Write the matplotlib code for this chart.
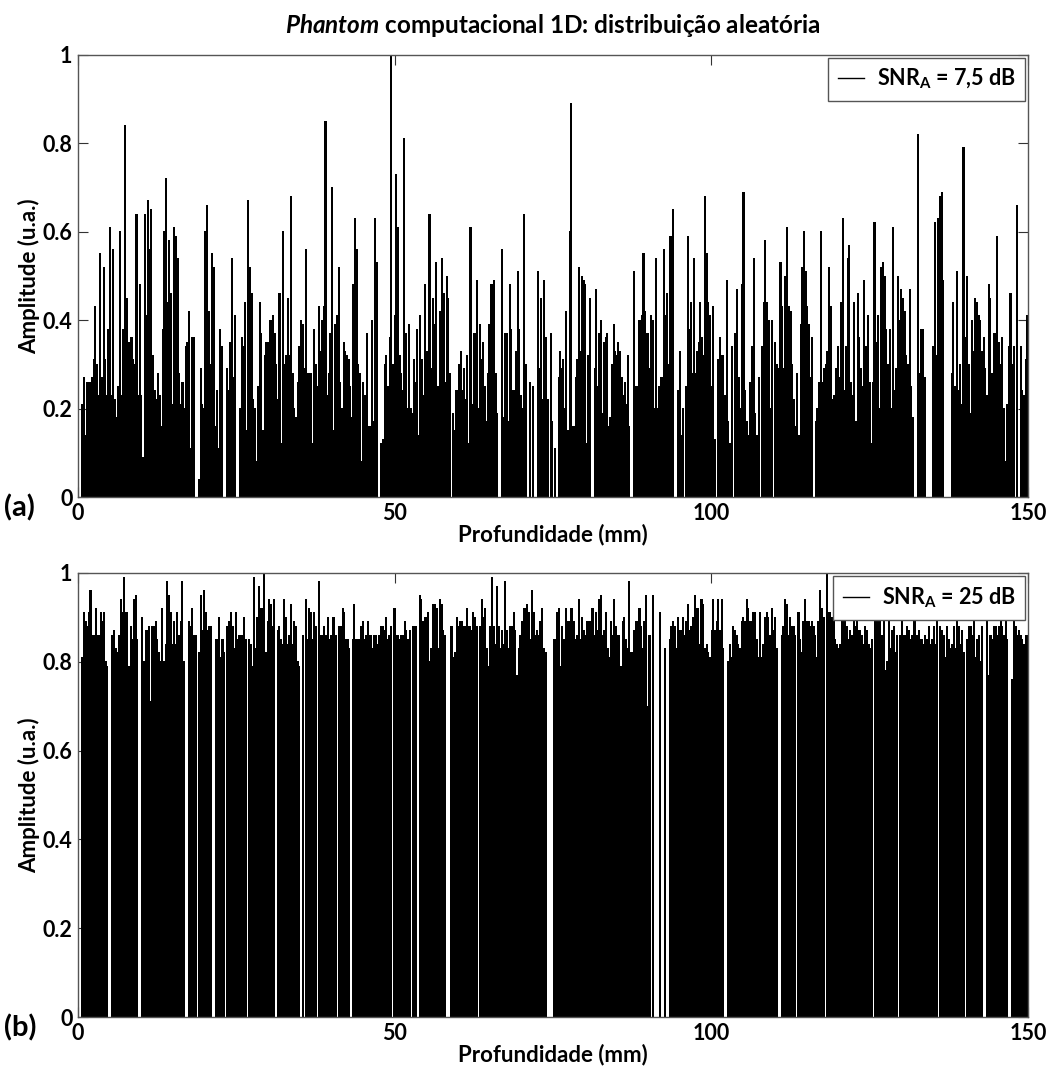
import matplotlib
matplotlib.use("Agg")
import matplotlib.pyplot as plt
from matplotlib.lines import Line2D
import numpy as np

plt.rcParams['font.family'] = ['Lato', 'DejaVu Sans']
plt.rcParams['font.weight'] = 'bold'
plt.rcParams['axes.labelweight'] = 'bold'
plt.rcParams['mathtext.fontset'] = 'custom'
plt.rcParams['mathtext.rm'] = 'Lato:bold'
plt.rcParams['mathtext.bf'] = 'Lato:bold'
plt.rcParams['mathtext.it'] = 'Lato:italic:bold'

# (a) SNR_A = 7,5 dB -- amplitudes per 50 mm stretch, 0 = no scatterer
amp_a_1 = [0.21, 0.27, 0.14, 0.26, 0.26, 0.26, 0.27, 0.31, 0.43, 0.30, 0.23, 0.55, 0.27, 0.52,
           0.31, 0.23, 0.38, 0.61, 0.23, 0.56, 0.22, 0.18, 0.25, 0.60, 0.23, 0.38, 0.84, 0.45,
           0.35, 0.35, 0.36, 0.31, 0.30, 0.64, 0.23, 0.48, 0.23, 0.09, 0.64, 0.41, 0.67, 0.56,
           0.65, 0.32, 0.24, 0.22, 0.28, 0.23, 0.16, 0.38, 0.60, 0.72, 0.44, 0.58, 0.46, 0.21,
           0.61, 0.59, 0.54, 0.28, 0.21, 0.26, 0.20, 0.34, 0.35, 0.42, 0.11, 0.36, 0.36, 0,
           0, 0.04, 0.29, 0.21, 0.20, 0.60, 0.66, 0.42, 0.30, 0.55, 0.52, 0.16, 0.24, 0.11,
           0.38, 0.34, 0, 0, 0.29, 0.24, 0.35, 0.54, 0.27, 0.41, 0, 0, 0.20, 0.36, 0.34, 0.44,
           0.15, 0.67, 0.52, 0.46, 0.22, 0.20, 0.08, 0.25, 0.44, 0.37, 0.15, 0.32, 0.35, 0.35,
           0.40, 0.40, 0.41, 0.37, 0.30, 0.22, 0.46, 0.12, 0.60, 0.30, 0.32, 0.45, 0.32, 0.68,
           0.28, 0.20, 0.18, 0.26, 0.34, 0.40, 0.39, 0.29, 0.56, 0.28, 0.28, 0.28, 0.12, 0.38,
           0.30, 0.25, 0.43, 0.33, 0.40, 0.43, 0.85, 0.23, 0.28, 0.37, 0.70, 0.15, 0.39, 0.41,
           0.52, 0.26, 0.20, 0.35, 0.33, 0.32, 0.31, 0.25, 0.18, 0.48, 0.63, 0.56, 0.30, 0.28,
           0.08, 0.26, 0.23, 0.37, 0.16, 0.16, 0.40, 0.17, 0.63, 0.53, 0, 0, 0.12, 0.13, 0.30,
           0.32, 0.25, 0.36, 1.00, 0.30, 0.41, 0.73, 0.61, 0.32]
amp_a_2 = [0.28, 0.24, 0.81, 0.37, 0.20, 0.39, 0.20, 0.19, 0.31, 0.26, 0.38, 0.14, 0.41, 0.31,
           0.23, 0.48, 0.33, 0.33, 0.64, 0.29, 0.45, 0.39, 0.53, 0.25, 0.25, 0.42, 0.54, 0.46,
           0.26, 0.50, 0.45, 0.28, 0, 0.19, 0.15, 0.24, 0.24, 0.30, 0.33, 0.24, 0.29, 0.22,
           0.32, 0.12, 0.61, 0.21, 0.37, 0.37, 0.49, 0.20, 0.39, 0.31, 0.35, 0.25, 0.17, 0.28,
           0.39, 0.48, 0.48, 0.49, 0.28, 0.19, 0, 0, 0.56, 0.18, 0.37, 0.37, 0.17, 0.48, 0.38,
           0.24, 0.24, 0.33, 0.51, 0.38, 0.23, 0.20, 0.64, 0.30, 0, 0, 0.26, 0, 0.25, 0, 0,
           0.51, 0.29, 0.45, 0.22, 0.49, 0.36, 0.22, 0, 0.37, 0.17, 0, 0.11, 0, 0.27, 0.33,
           0.29, 0.31, 0.20, 0.42, 0.15, 0.60, 0.89, 0.16, 0.16, 0.27, 0.31, 0.52, 0.33, 0.50,
           0.49, 0.48, 0.12, 0.32, 0.45, 0, 0, 0.29, 0.47, 0.25, 0.37, 0.40, 0.19, 0.35, 0.36,
           0.37, 0.16, 0.18, 0.30, 0.39, 0.33, 0.32, 0.35, 0.33, 0.27, 0.23, 0.26, 0.21, 0.32,
           0.16, 0, 0, 0.51, 0.25, 0.25, 0.40, 0.40, 0.41, 0.55, 0.42, 0.37, 0.37, 0.29, 0.41,
           0.40, 0.20, 0.54, 0.20, 0.25, 0.27, 0.27, 0.56, 0.41, 0.46, 0.30, 0.59, 0.59, 0.65,
           0, 0, 0.24, 0.33, 0.14, 0.20, 0, 0.25, 0.59, 0.38, 0.44, 0.28, 0.54, 0.28, 0.33,
           0.35, 0.44, 0.36, 0.32, 0.68, 0.55, 0.44, 0.41]
amp_a_3 = [0.25, 0.43, 0.13, 0, 0.31, 0.36, 0.32, 0.32, 0.23, 0.49, 0.17, 0.12, 0.34, 0, 0.37,
           0.47, 0.27, 0.20, 0.48, 0.69, 0.24, 0.17, 0.14, 0.26, 0.34, 0.54, 0.19, 0.14, 0.27,
           0, 0.34, 0.44, 0.58, 0.44, 0.40, 0.20, 0.40, 0, 0.35, 0.30, 0.29, 0.53, 0.43, 0.29,
           0.50, 0.61, 0.43, 0.42, 0.30, 0.22, 0.16, 0.28, 0.14, 0.39, 0.52, 0.60, 0.51, 0.43,
           0.39, 0.27, 0.36, 0, 0.17, 0.20, 0.26, 0.60, 0.26, 0.29, 0.30, 0.33, 0.52, 0.43,
           0.22, 0.23, 0.29, 0.34, 0.27, 0.44, 0.63, 0.24, 0.34, 0.54, 0.57, 0.26, 0.23, 0.44,
           0.17, 0.46, 0.36, 0.29, 0.25, 0.49, 0.34, 0.41, 0.26, 0.12, 0.26, 0.62, 0.35, 0.41,
           0.20, 0.52, 0.53, 0.50, 0.38, 0.30, 0.38, 0.20, 0.61, 0.24, 0.29, 0.50, 0.40, 0.47,
           0.45, 0.42, 0.32, 0.30, 0.47, 0.25, 0.18, 0, 0, 0.82, 0.28, 0.38, 0.38, 0.27, 0, 0,
           0, 0, 0.34, 0.62, 0.32, 0.63, 0.68, 0.69, 0.49, 0, 0, 0, 0, 0.28, 0.44, 0.25, 0.51,
           0.24, 0.30, 0.21, 0.79, 0.36, 0.50, 0.30, 0.19, 0.40, 0.33, 0.45, 0.44, 0.41, 0.40,
           0.33, 0.36, 0.29, 0.23, 0.48, 0.45, 0.28, 0.37, 0.37, 0.59, 0.35, 0.30, 0.36, 0.20,
           0.08, 0.21, 0.34, 0.46, 0.30, 0.34, 0, 0.66, 0, 0.34, 0.24, 0.23, 0.31, 0.41]

# (b) SNR_A = 25 dB
amp_b_1 = [0.81, 0.91, 0.89, 0.88, 0.91, 0.96, 0.86, 0.86, 0.92, 0.86, 0.86, 0.91, 0.89, 0.91,
           0.80, 0.79, 0, 0, 0.86, 0.87, 0.83, 0.82, 0.86, 0.94, 0.91, 0.99, 0.91, 0.91, 0.79,
           0.88, 0.85, 0.94, 0.95, 0.85, 0, 0, 0.90, 0.80, 0.87, 0.87, 0.88, 0.71, 0.88, 0.88,
           0.89, 0.85, 0.82, 0.80, 0.92, 0.80, 0.84, 0.98, 0.95, 0.91, 0.84, 0.89, 0.84, 0.91,
           0.86, 0.89, 0.98, 0.80, 0, 0, 0.89, 0.88, 0.92, 0.86, 0.86, 0, 0.82, 0.95, 0.87,
           0.96, 0.91, 0.87, 0.88, 0.88, 0, 0, 0.85, 0.85, 0.90, 0.81, 0.85, 0.82, 0, 0.88,
           0.89, 0.91, 0.88, 0.83, 0.91, 0.85, 0.86, 0.86, 0.86, 0.90, 0.85, 0, 0.85, 0.84,
           0.79, 0.99, 0.83, 0.90, 0.97, 0.92, 0.92, 1.00, 0.82, 0.89, 0.94, 0.93, 0.88, 0.94,
           0, 0.87, 0.88, 0.85, 0.84, 0.94, 0.90, 0.84, 0.86, 0.93, 0.84, 0.89, 0.88, 0.80,
           0.79, 0, 0.86, 0, 0.94, 0.85, 0.92, 0.91, 0.85, 0.91, 0.88, 0, 0.98, 0.86, 0.86,
           0.88, 0.86, 0.90, 0.85, 0.86, 0.90, 0.90, 0.86, 0, 0.88, 0.88, 0.92, 0.91, 0.85,
           0.85, 0.83, 0, 0.85, 0.93, 0.85, 0.85, 0.85, 0.88, 0.89, 0.85, 0.86, 0.89, 0.86,
           0.86, 0.83, 0.86, 0.86, 0.84, 0.86, 0.88, 0.88, 0.87, 0.90, 0.85, 0.86, 0.88, 0,
           0.92, 0.86, 0.86, 0.85]
amp_b_2 = [0.86, 0.86, 0.89, 0.87, 0.85, 0.87, 0, 0.88, 0.88, 0.88, 0, 0.95, 0.94, 0.89, 0.90,
           0.90, 0.91, 0.80, 0.83, 0.93, 0.93, 0.92, 0.83, 0.94, 0.93, 0.87, 0.86, 0, 0, 0,
           0.88, 0.81, 0.82, 0.90, 0.88, 0.89, 0.89, 0.88, 0.88, 0.92, 0.88, 0.88, 0.87, 0.91,
           0.90, 0.88, 0, 0.88, 0.94, 0.90, 0.92, 0.83, 0.79, 0.88, 0.99, 0.88, 0.84, 0.97,
           0.88, 0.83, 0.87, 0.84, 0.98, 0.87, 0.83, 0.88, 0.88, 0.91, 0.87, 0.77, 0.83, 0.86,
           0.89, 0.92, 0.92, 0.93, 0.91, 0.85, 0.96, 0.91, 0.86, 0.87, 0.86, 0.89, 0.92, 0.83,
           0.82, 0, 0, 0, 0, 0.85, 0.85, 0.91, 0.92, 0.79, 0.88, 0.85, 0.92, 0.89, 0.89, 0.92,
           0.92, 0.89, 0.85, 0.86, 0.94, 0.85, 0.90, 0.87, 0.86, 0.89, 0.89, 0.89, 0.92, 0.86,
           0.91, 0.87, 0.94, 0.95, 0.86, 0.87, 0.91, 0.83, 0.81, 0.89, 0.86, 0.94, 0.88, 0.86,
           0.86, 0.79, 0.89, 0.90, 0.85, 0.83, 0.98, 0.82, 0.82, 0.87, 0.89, 0.89, 0.92, 0.88,
           0.83, 0.89, 0.95, 0.70, 0.86, 0, 0.95, 0, 0, 0, 0.91, 0, 0, 0.83, 0, 0, 0.85, 0.88,
           0.89, 0.88, 0.83, 0.90, 0.87, 0.87, 0.90, 0.86, 0.89, 0.93, 0.87, 0.88, 0.90, 0.95,
           0.92, 0.92, 0.84, 0.94, 0.93, 0.83, 0.84, 0.82, 0.81]
amp_b_3 = [0.87, 0.94, 0.87, 0.89, 0.94, 0.87, 0.94, 0.83, 0, 0, 0.80, 0.84, 0.81, 0.88, 0.87,
           0.86, 0.84, 0.83, 0.89, 0.90, 0.89, 0.94, 0.92, 0.89, 0.89, 0.91, 0.91, 0.85, 0.81,
           0.91, 0.81, 0.84, 0.90, 0.91, 0.90, 0.86, 0.92, 0.87, 0.90, 0.83, 0, 0, 0.86, 0.88,
           0.94, 0.93, 0.86, 0.90, 0.88, 0.88, 0.86, 0, 0.91, 0.85, 0.82, 0.89, 0.94, 0.89,
           0.89, 0.88, 0.89, 0.88, 0.86, 0.81, 0.89, 0.96, 0.92, 0.90, 0, 1.00, 0.91, 0.91,
           0.90, 0.90, 0.85, 0.84, 0.83, 0.84, 0.89, 0.89, 0.89, 0.88, 0.85, 0.87, 0.86, 0.89,
           0.88, 0.89, 0.87, 0.87, 0.86, 0.84, 0.88, 0.87, 0.84, 0.83, 0.85, 0, 0.89, 0.89,
           0.89, 0.89, 0.86, 0.89, 0.78, 0.80, 0.89, 0.83, 0.87, 0.88, 0.82, 0.86, 0, 0.86,
           0.89, 0.86, 0.86, 0.88, 0.87, 0.85, 0.86, 0.89, 0.89, 0.86, 0.87, 0.85, 0.85, 0.84,
           0.86, 0.85, 0.88, 0.84, 0.85, 0.88, 0.84, 0.89, 0, 0.88, 0.87, 0.86, 0.81, 0.88,
           0.85, 0.83, 0.84, 0.88, 0.83, 0.89, 0.88, 0.84, 0.87, 0.82, 0, 0.85, 0.88, 0.88,
           0.86, 0.89, 0.81, 0.85, 0.86, 0.80, 0.88, 0, 0, 0.89, 0.77, 0.86, 0.85, 0.88, 0.88,
           0.86, 0.88, 0.89, 0.88, 0.86, 0.89, 0.85, 0, 0, 0.76, 0.89, 0.88, 0.86, 0.87, 0.86,
           0.85, 0.84, 0.86, 0.86]

# depth range (mm) covered by each stretch
ranges_a = [(0.66, 50.76), (51.03, 99.72), (100.04, 149.88)]
ranges_b = [(0.66, 50.76), (51.03, 99.77), (100.04, 149.88)]

panels = [
    ([amp_a_1, amp_a_2, amp_a_3], ranges_a, r'SNR$_{\mathbf{A}}$ = 7,5 dB', '(a)'),
    ([amp_b_1, amp_b_2, amp_b_3], ranges_b, r'SNR$_{\mathbf{A}}$ = 25 dB', '(b)'),
]

fig = plt.figure(figsize=(10.5, 10.7), dpi=100)
axes_pos = [[0.0743, 0.5355, 0.9048, 0.4131], [0.0743, 0.0495, 0.9048, 0.415]]

for (segs, rngs, label, tag), pos in zip(panels, axes_pos):
    ax = fig.add_axes(pos)
    for amp, (d0, d1) in zip(segs, rngs):
        depth = np.linspace(d0, d1, len(amp))
        amp = np.array(amp)
        keep = amp > 0
        ax.vlines(depth[keep], 0, amp[keep], color='k', lw=0.8,
                  antialiased=False, snap=False)
    ax.set_xlim(0, 150)
    ax.set_ylim(0, 1)
    ax.set_xticks([0, 50, 100, 150])
    ax.set_yticks([0, 0.2, 0.4, 0.6, 0.8, 1])
    ax.set_yticklabels(['0', '0.2', '0.4', '0.6', '0.8', '1'])
    ax.tick_params(direction='in', length=7, width=0.8, top=True, right=True,
                   labelsize=15.5, colors='#333333', labelcolor='black', pad=4)
    for s in ax.spines.values():
        s.set_color('#555555')
        s.set_linewidth(1.0)
    ax.set_xlabel('Profundidade (mm)', fontsize=16, labelpad=0)
    ax.set_ylabel('Amplitude (u.a.)', fontsize=16, labelpad=2)
    leg = ax.legend([Line2D([0], [0], color='k', lw=1.0)], [label], loc='upper right',
                    fontsize=15.5, frameon=True, fancybox=False, borderaxespad=0.12,
                    handlelength=1.2, handletextpad=0.6, borderpad=0.45)
    leg.get_frame().set_edgecolor('#555555')
    leg.get_frame().set_linewidth(1.0)
    leg.get_frame().set_alpha(1)
    fig.text(0.004, pos[1] - 0.01, tag, fontsize=21, ha='left', va='center')

fig.text(0.5267, 0.976, r'$\mathit{Phantom}$ computacional 1D: distribuição aleatória',
         fontsize=17.5, ha='center', va='center')

fig.savefig('out.png', dpi=100)
